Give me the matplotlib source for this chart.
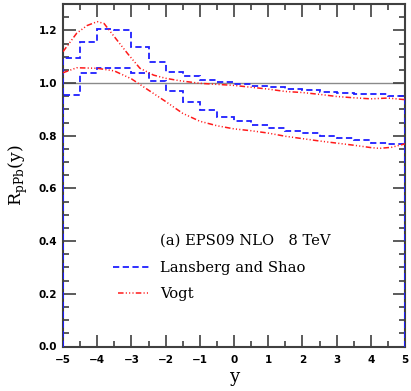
import numpy as np
import matplotlib
matplotlib.use("Agg")
import matplotlib.pyplot as plt
from matplotlib.ticker import MultipleLocator

plt.rcParams['lines.scale_dashes'] = False

# Blue histogram (Lansberg and Shao), bin edges every 0.5 in y
edges = np.arange(-5.0, 5.01, 0.5)
ls_upper = [1.094, 1.157, 1.205, 1.200, 1.135, 1.078, 1.043, 1.027, 1.011, 1.003,
            0.995, 0.989, 0.984, 0.978, 0.975, 0.967, 0.963, 0.960, 0.957, 0.951]
ls_lower = [0.955, 1.038, 1.056, 1.056, 1.037, 1.009, 0.970, 0.928, 0.898, 0.872,
            0.856, 0.841, 0.831, 0.819, 0.809, 0.799, 0.792, 0.782, 0.772, 0.767]

# Red curves (Vogt)
vogt_up_x = [-5.0, -4.6, -4.3, -4.0, -3.8, -3.5, -3.1, -2.75, -2.35, -2.0, -1.6, -1.0,
             -0.5, 0.0, 0.5, 1.0, 1.5, 2.0, 2.5, 3.0, 3.5, 4.0, 4.5, 5.0]
vogt_up_y = [1.119, 1.189, 1.218, 1.233, 1.226, 1.176, 1.110, 1.056, 1.030, 1.018, 1.009, 0.999,
             0.995, 0.991, 0.984, 0.977, 0.968, 0.964, 0.957, 0.949, 0.944, 0.940, 0.943, 0.937]
vogt_lo_x = [-5.0, -4.6, -4.0, -3.5, -3.0, -2.5, -2.0, -1.5, -1.0, -0.5, 0.0, 0.5, 1.0,
             1.5, 2.0, 2.5, 3.0, 3.5, 4.0, 4.25, 4.6, 5.0]
vogt_lo_y = [1.039, 1.058, 1.056, 1.046, 1.016, 0.973, 0.930, 0.885, 0.855, 0.838, 0.826, 0.819, 0.810,
             0.798, 0.789, 0.780, 0.772, 0.764, 0.755, 0.752, 0.756, 0.769]

title_text = "(a) EPS09 NLO   8 TeV"
labels = ["Lansberg and Shao", "Vogt"]

fig = plt.figure(figsize=(4.11, 3.91), dpi=100)
ax = fig.add_axes([63/411, 1-346.5/391, 342/411, 342.5/391])

blue_dash = (0, (4.5, 2.5))
red_dash = (0, (4.0, 1.6, 0.8, 1.6, 0.8, 1.6, 0.8, 1.6))

ax.axhline(1.0, color='#8a8a8a', lw=1.0, zorder=1)
ax.stairs(ls_upper, edges, baseline=0, color='#1f1fff', lw=1.3, linestyle=blue_dash, zorder=3)
ax.stairs(ls_lower, edges, baseline=0, color='#1f1fff', lw=1.3, linestyle=blue_dash, zorder=3)
ax.plot(vogt_up_x, vogt_up_y, color='#ff1a1a', lw=1.1, linestyle=red_dash, zorder=4)
ax.plot(vogt_lo_x, vogt_lo_y, color='#ff1a1a', lw=1.1, linestyle=red_dash, zorder=4)

ax.set_xlim(-5, 5)
ax.set_ylim(0, 1.3)
ax.xaxis.set_major_locator(MultipleLocator(1))
ax.xaxis.set_minor_locator(MultipleLocator(0.5))
ax.yaxis.set_major_locator(MultipleLocator(0.2))
ax.yaxis.set_minor_locator(MultipleLocator(0.05))

spc = '#404040'
for s in ax.spines.values():
    s.set_color(spc)
    s.set_linewidth(1.5)
ax.tick_params(which='both', direction='in', top=True, right=True, color=spc, width=1.2)
ax.tick_params(which='major', length=9)
ax.tick_params(which='minor', length=4.5)
ax.tick_params(axis='x', pad=6)
ax.tick_params(axis='y', pad=4)
for lab in ax.get_xticklabels() + ax.get_yticklabels():
    lab.set_fontweight('bold')
    lab.set_fontsize(7.5)
    lab.set_family('DejaVu Sans')

ax.set_xlabel('y', family='DejaVu Serif', fontsize=13, labelpad=2)
ax.set_ylabel(r'R$_{\mathregular{pPb}}$(y)', family='DejaVu Serif', fontsize=12.5, labelpad=6)

tf = dict(family='DejaVu Serif', fontsize=10.6, transform=ax.transAxes, va='center', ha='left')
ax.text(0.284, 0.308, title_text, **tf)
ax.text(0.284, 0.229, labels[0], **tf)
ax.text(0.284, 0.153, labels[1], **tf)
ax.plot([0.146, 0.25], [0.232, 0.232], transform=ax.transAxes, color='#1f1fff', lw=1.3, linestyle=blue_dash)
ax.plot([0.16, 0.25], [0.157, 0.157], transform=ax.transAxes, color='#ff1a1a', lw=1.1, linestyle=red_dash)

fig.savefig('out.png', dpi=100)
